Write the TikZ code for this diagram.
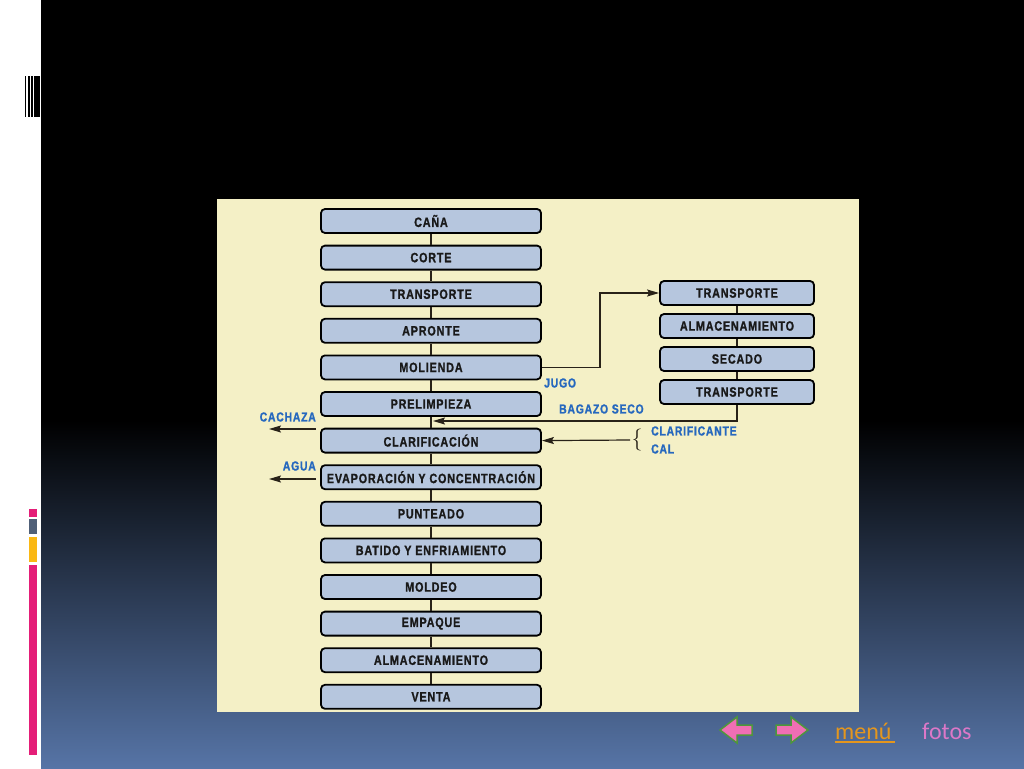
\documentclass[tikz,border=0pt]{standalone}
\usepackage{fontspec}
\usetikzlibrary{arrows.meta}
\newfontfamily\boxfont[FakeStretch=0.8,LetterSpace=6,FakeBold=1.2]{Liberation Sans}
\newfontfamily\navfont{Carlito}
\definecolor{boxblue}{RGB}{182,198,222}
\definecolor{paper}{RGB}{244,240,198}
\definecolor{lblblue}{RGB}{38,104,190}
\definecolor{arrdark}{RGB}{40,34,24}
\definecolor{slideblue}{RGB}{86,116,166}
\definecolor{navpink}{RGB}{240,110,180}
\definecolor{navgreen}{RGB}{78,150,60}
\definecolor{navorange}{RGB}{228,150,30}
\definecolor{navviolet}{RGB}{220,120,200}
\definecolor{barpink}{RGB}{228,30,120}
\definecolor{bargray}{RGB}{80,96,120}
\definecolor{baryellow}{RGB}{250,184,20}
\tikzset{
  stepbox/.style={draw=black, line width=1.8pt, rounded corners=4pt, fill=boxblue,
    minimum width=220pt, minimum height=24pt, inner sep=0pt, text=black!90,
    font=\boxfont\bfseries\fontsize{13.5}{15}\selectfont},
  sidebox/.style={stepbox, minimum width=154pt},
  link/.style={draw=arrdark, line width=1.2pt},
  arr/.style={link, -{Stealth[length=12pt,width=7pt,inset=2pt]}},
  lbl/.style={text=lblblue, inner sep=0pt, font=\boxfont\bfseries\fontsize{13}{15}\selectfont},
}
\begin{document}
\begin{tikzpicture}[x=1pt,y=-1pt]
\useasboundingbox (0,0) rectangle (1024,768);
% slide background
\fill[white] (0,0) rectangle (1024,768);
\fill[black] (41,0) rectangle (1024,420);
\shade[top color=black, bottom color=slideblue] (41,420) rectangle (1024,768);
% top-left icon
\fill[black] (25,76) rectangle (26,117);
\fill[black] (28,76) rectangle (29.5,117);
\fill[black] (31,76) rectangle (32.5,117);
\fill[black] (34,76) rectangle (40,117);
% left colour bars
\fill[barpink] (29,509) rectangle (37,517);
\fill[bargray] (29,519) rectangle (37,534);
\fill[baryellow] (29,537) rectangle (37,562);
\fill[barpink] (29,565) rectangle (37,755);
% picture
\fill[paper] (217,199) rectangle (859,712);
% main column
\foreach \t [count=\i from 0] in {CAÑA,CORTE,TRANSPORTE,APRONTE,MOLIENDA,PRELIMPIEZA,CLARIFICACIÓN,EVAPORACIÓN Y CONCENTRACIÓN,PUNTEADO,BATIDO Y ENFRIAMIENTO,MOLDEO,EMPAQUE,ALMACENAMIENTO,VENTA}
  \node[stepbox] (m\i) at (431,{221+36.6*\i}) {\t};
\foreach \i [evaluate=\i as \j using int(\i+1)] in {0,...,12}
  \draw[link] (m\i.south) -- (m\j.north);
% right column
\foreach \t [count=\i from 1] in {TRANSPORTE,ALMACENAMIENTO,SECADO,TRANSPORTE}
  \node[sidebox] (r\i) at (737,{260+33*\i}) {\t};
\foreach \i [evaluate=\i as \j using int(\i+1)] in {1,2,3}
  \draw[link] (r\i.south) -- (r\j.north);
% jugo / bagazo
\coordinate (jt) at (600,293);
\draw[arr] (m4.east) -| (jt) -- (r1.west);
\coordinate (bm) at (433,421);
\draw[arr] (r4.south) |- (bm);
\node[lbl, anchor=west] (jugo) at (544,383) {JUGO};
\node[lbl, anchor=west] (bagazo) at (559,409) {BAGAZO SECO};
% clarificante
\coordinate (cl) at (630,440);
\draw[arr] (cl) -- (m6.east);
\node[inner sep=0pt, text=arrdark, font=\fontsize{22}{22}\selectfont] (brace) at (637,440) {\{};
\node[lbl, anchor=west] (clar) at (651,431) {CLARIFICANTE};
\node[lbl, anchor=west] (cal) at (651,449) {CAL};
% cachaza / agua
\coordinate (cz1) at (316,429);
\coordinate (cz2) at (269,429);
\draw[arr] (cz1) -- (cz2);
\node[lbl, anchor=east] (cachaza) at (316,417) {CACHAZA};
\coordinate (ag1) at (316,479);
\coordinate (ag2) at (269,479);
\draw[arr] (ag1) -- (ag2);
\node[lbl, anchor=east] (agua) at (316,466) {AGUA};
% navigation
\filldraw[fill=navpink, draw=navgreen, line width=1.5pt]
  (720,730) -- (737,717) -- (737,725) -- (752,725) -- (752,735) -- (737,735) -- (737,743) -- cycle;
\filldraw[fill=navpink, draw=navgreen, line width=1.5pt]
  (808,730) -- (791,717) -- (791,725) -- (776,725) -- (776,735) -- (791,735) -- (791,743) -- cycle;
\node[anchor=base west, inner sep=0pt, text=navorange, font=\navfont\fontsize{24}{28}\selectfont] (menu) at (835,739) {menú};
\draw[navorange, line width=1.2pt] (menu.base west) ++(0,3) -- ++(60,0);
\node[anchor=base west, inner sep=0pt, text=navviolet, font=\navfont\fontsize{24}{28}\selectfont] (fotos) at (922,739) {fotos};
\end{tikzpicture}
\end{document}
